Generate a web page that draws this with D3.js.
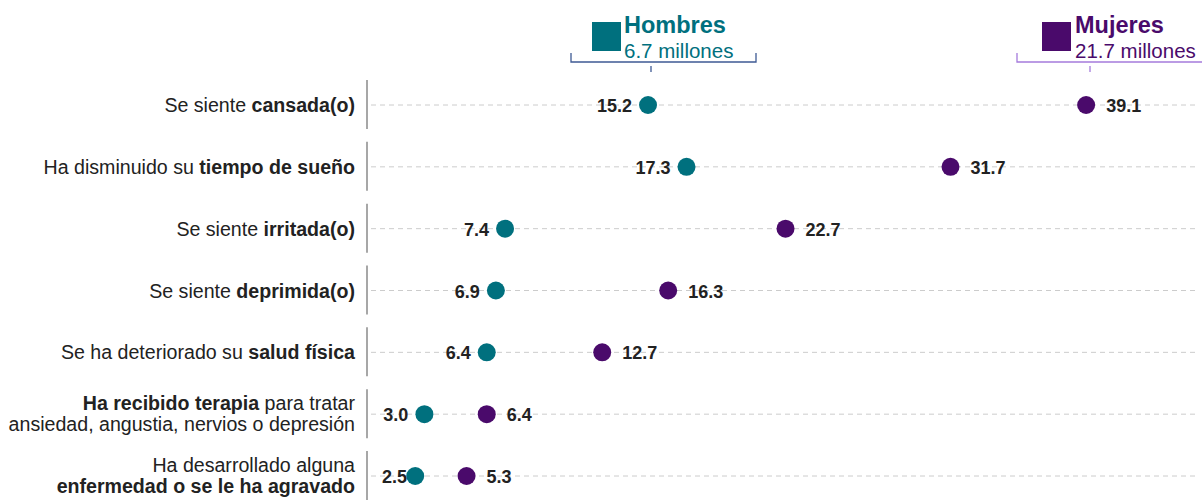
<!DOCTYPE html>
<html>
<head>
<meta charset="utf-8">
<script src="https://cdn.jsdelivr.net/npm/d3@7/dist/d3.min.js"></script>
<style>
  html, body { margin: 0; padding: 0; background: #fff; }
  svg { display: block; font-family: "Liberation Sans", Arial, sans-serif; }
</style>
</head>
<body>
<svg id="chart" width="1202" height="500"></svg>
<script>
// ---- Data ----
const categories = [
  "cansada", "sueno", "irritada", "deprimida", "salud", "terapia", "enfermedad"
];
// label lines: arrays of [text, bold] segments per line
const labelLines = [
  [[["Se siente ", false], ["cansada(o)", true]]],
  [[["Ha disminuido su ", false], ["tiempo de sueño", true]]],
  [[["Se siente ", false], ["irritada(o)", true]]],
  [[["Se siente ", false], ["deprimida(o)", true]]],
  [[["Se ha deteriorado su ", false], ["salud física", true]]],
  [[["Ha recibido terapia", true], [" para tratar", false]],
   [["ansiedad, angustia, nervios o depresión", false]]],
  [[["Ha desarrollado alguna", false]],
   [["enfermedad o se le ha agravado", true]]]
];
const hombres = [15.2, 17.3, 7.4, 6.9, 6.4, 3.0, 2.5];
const mujeres = [39.1, 31.7, 22.7, 16.3, 12.7, 6.4, 5.3];
const seriesNames = ["Hombres", "Mujeres"];
const seriesTotals = ["6.7 millones", "21.7 millones"];

const teal = "#00707e";
const purple = "#4a0a6b";

const svg = d3.select("#chart");

const x = d3.scaleLinear().domain([0, 45]).range([369.4, 1194.3]);
const y = d3.scalePoint().domain(categories).range([105, 476]);

// ---- separators & gridlines ----
const rows = svg.append("g");
categories.forEach((c, i) => {
  const cy = y(c);
  rows.append("line")
    .attr("x1", 371).attr("x2", 1195)
    .attr("y1", cy).attr("y2", cy)
    .attr("stroke", "#cccccc").attr("stroke-width", 1)
    .attr("stroke-dasharray", "5,4");
  rows.append("line")
    .attr("x1", 367).attr("x2", 367)
    .attr("y1", cy - 25).attr("y2", cy + 24)
    .attr("stroke", "#8a8a8a").attr("stroke-width", 1.5);
});

// ---- category labels ----
const labG = svg.append("g");
categories.forEach((c, i) => {
  const lines = labelLines[i];
  const cy = y(c);
  const offsets = lines.length === 1 ? [7] : [-4, 17];
  lines.forEach((segs, j) => {
    const t = labG.append("text")
      .attr("x", 355).attr("y", cy + offsets[j])
      .attr("text-anchor", "end")
      .attr("font-size", 19.6)
      .attr("fill", "#222");
    segs.forEach(([txt, b]) => {
      t.append("tspan").attr("font-weight", b ? "bold" : "normal")
        .attr("xml:space", "preserve").text(txt);
    });
  });
});

// ---- points ----
const ptG = svg.append("g");
categories.forEach((c, i) => {
  const cy = y(c);
  ptG.append("circle").attr("cx", x(hombres[i])).attr("cy", cy).attr("r", 9).attr("fill", teal);
  ptG.append("circle").attr("cx", x(mujeres[i])).attr("cy", cy).attr("r", 9).attr("fill", purple);
  const ht = ptG.append("text")
    .attr("x", x(hombres[i]) - 16).attr("y", cy + 7)
    .attr("text-anchor", "end")
    .attr("font-size", 18).attr("font-weight", "bold").attr("fill", "#222")
    .text(hombres[i].toFixed(1));
  const w = ht.node().getComputedTextLength();
  if (x(hombres[i]) - 16 - w < 382) {
    ht.attr("text-anchor", "start").attr("x", 382);
  }
  ptG.append("text")
    .attr("x", x(mujeres[i]) + 20).attr("y", cy + 7)
    .attr("text-anchor", "start")
    .attr("font-size", 18).attr("font-weight", "bold").attr("fill", "#222")
    .text(mujeres[i].toFixed(1));
});

// ---- legend ----
function legend(sq, txtX, left, right, tickX, color, bracketColor, name, total) {
  const g = svg.append("g");
  g.append("rect").attr("x", sq).attr("y", 22).attr("width", 29).attr("height", 29).attr("fill", color);
  g.append("text").attr("x", txtX).attr("y", 33)
    .attr("font-size", 23.5).attr("font-weight", "bold").attr("fill", color).text(name);
  g.append("text").attr("x", txtX).attr("y", 58)
    .attr("font-size", 20.5).attr("fill", color).text(total);
  g.append("path")
    .attr("d", `M${left},53V62H${right}V53`)
    .attr("fill", "none").attr("stroke", bracketColor).attr("stroke-width", 1.3);
  g.append("line").attr("x1", tickX).attr("x2", tickX).attr("y1", 66).attr("y2", 72)
    .attr("stroke", bracketColor).attr("stroke-width", 1.3);
}
legend(592, 624, 571, 756, 651, teal, "#3e5a94", seriesNames[0], seriesTotals[0]);
legend(1042, 1075, 1017, 1210, 1090, purple, "#a57bdc", seriesNames[1], seriesTotals[1]);
</script>
</body>
</html>
